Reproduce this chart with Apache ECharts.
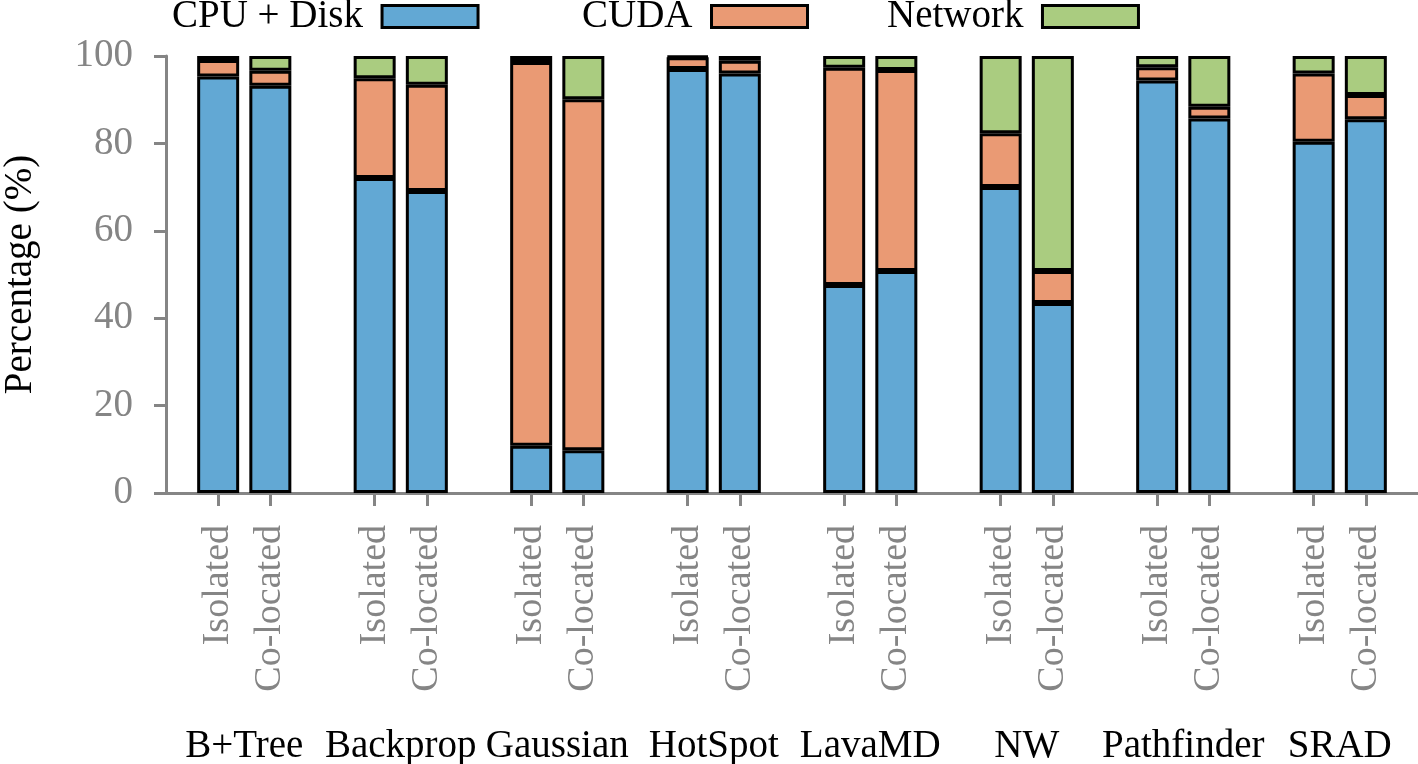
<!DOCTYPE html>
<html>
<head>
<meta charset="utf-8">
<script src="https://cdn.jsdelivr.net/npm/echarts@6/dist/echarts.min.js"></script>
<style>html,body{margin:0;padding:0;background:#fff}#c{width:1418px;height:764px}</style>
</head>
<body>
<div id="c"></div>
<script>
const categories = ['B+Tree','Backprop','Gaussian','HotSpot','LavaMD','NW','Pathfinder','SRAD'];
const modes = ['Isolated','Co-located'];
const seriesNames = ['CPU + Disk','CUDA','Network'];
const cpuIsolated   = [95.3, 72.1, 10.8, 97.0, 47.6, 70.0, 94.4, 80.4];
const cpuColocated  = [93.2, 69.1,  9.8, 96.0, 50.8, 43.5, 85.7, 85.5];
const cudaIsolated  = [ 3.8, 22.8, 87.8,  2.7, 49.7, 12.3,  3.0, 15.6];
const cudaColocated = [ 3.4, 24.3, 80.3,  2.9, 46.0,  7.3,  2.7,  5.6];
const netIsolated   = [ 0.9,  5.1,  1.4,  0.3,  2.7, 17.7,  2.6,  4.0];
const netColocated  = [ 3.4,  6.6,  9.9,  1.1,  3.2, 49.2, 11.6,  8.9];
const yTicks = [0, 20, 40, 60, 80, 100];

const colors = ['#62a8d4', '#ea9a74', '#aacc80'];
const FONT = 'Liberation Serif';
const GRAY = '#858585';

// slot layout: blank, Isolated, Co-located per group, plus trailing blank
const slots = [''];
categories.forEach(() => { slots.push(modes[0], modes[1], ''); });

function toSlots(iso, co) {
  const out = [null];
  iso.forEach((v, i) => { out.push(iso[i], co[i], null); });
  return out;
}
const seriesData = [
  toSlots(cpuIsolated, cpuColocated),
  toSlots(cudaIsolated, cudaColocated),
  toSlots(netIsolated, netColocated)
];

const chart = echarts.init(document.getElementById('c'), null, {renderer: 'canvas'});
const legendBase = {
  orient: 'horizontal', align: 'right', top: -8, icon: 'rect',
  itemWidth: 96, itemHeight: 22, selectedMode: false,
  itemStyle: {borderColor: '#000', borderWidth: 3},
  textStyle: {fontFamily: FONT, fontSize: 39, color: '#000', padding: [0, 14, 0, 0]}
};
chart.setOption({
  animation: false,
  legend: [
    Object.assign({}, legendBase, {left: 167, data: [seriesNames[0]]}),
    Object.assign({}, legendBase, {left: 577, data: [seriesNames[1]]}),
    Object.assign({}, legendBase, {left: 882, data: [seriesNames[2]]})
  ],
  grid: {left: 166, right: 0, top: 56, bottom: 271, containLabel: false, outerBoundsMode: 'none'},
  xAxis: [
    {
      type: 'category', data: slots, boundaryGap: false, position: 'bottom',
      axisLine: {show: true, lineStyle: {color: GRAY, width: 3}},
      axisTick: {show: true, length: 13, lineStyle: {color: GRAY, width: 3},
        interval: (i) => slots[i] !== ''},
      axisLabel: {interval: 0, rotate: 90, margin: 32, color: GRAY, fontFamily: FONT, fontSize: 38}
    },
    {
      type: 'category', data: categories, boundaryGap: true, position: 'bottom', offset: 226,
      axisLine: {show: false}, axisTick: {show: false},
      axisLabel: {interval: 0, color: '#000', fontFamily: FONT, fontSize: 39}
    }
  ],
  yAxis: {
    type: 'value', min: yTicks[0], max: yTicks[yTicks.length - 1], interval: 20,
    name: 'Percentage (%)', nameLocation: 'middle', nameGap: 126,
    nameTextStyle: {fontFamily: FONT, fontSize: 39, color: '#000'},
    axisLine: {show: true, lineStyle: {color: GRAY, width: 3}},
    axisTick: {show: true, length: 12, lineStyle: {color: GRAY, width: 3}},
    axisLabel: {margin: 33, color: GRAY, fontFamily: FONT, fontSize: 39},
    splitLine: {show: false}
  },
  series: seriesNames.map((n, k) => ({
    name: n, type: 'bar', stack: 'total', barWidth: 42, xAxisIndex: 0,
    data: seriesData[k],
    itemStyle: {color: colors[k], borderColor: '#000', borderWidth: 3}
  }))
});
</script>
</body>
</html>
